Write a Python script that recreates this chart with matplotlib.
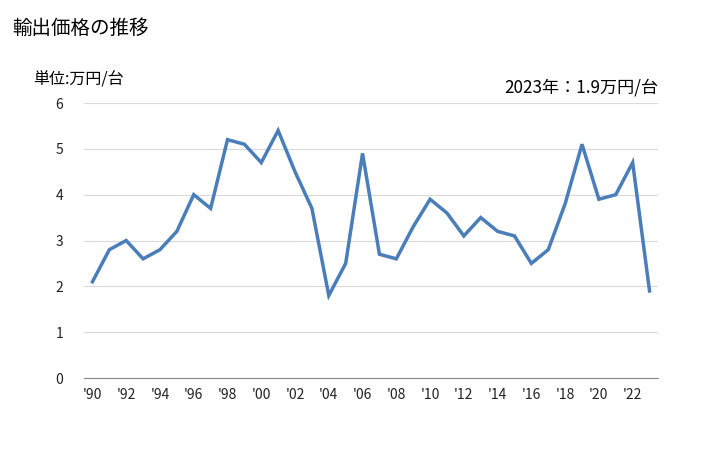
import matplotlib
matplotlib.use("Agg")
import matplotlib.pyplot as plt

plt.rcParams['font.family'] = ['Noto Sans CJK JP', 'DejaVu Sans']

years = list(range(1990, 2024))
prices = [2.1, 2.8, 3.0, 2.6, 2.8, 3.2, 4.0, 3.7, 5.2, 5.1,
          4.7, 5.4, 4.5, 3.7, 1.8, 2.5, 4.9, 2.7, 2.6, 3.3,
          3.9, 3.6, 3.1, 3.5, 3.2, 3.1, 2.5, 2.8, 3.8, 5.1,
          3.9, 4.0, 4.7, 1.9]
tick_years = list(range(1990, 2024, 2))
tick_labels = ["'%02d" % (y % 100) for y in tick_years]

fig = plt.figure(figsize=(7.28, 4.5), dpi=100)
ax = fig.add_axes([0.1154, 0.16, 0.7884, 0.6111])

ax.plot(years, prices, color='#4a7ebb', linewidth=2.5, solid_joinstyle='miter')

ax.set_xlim(1989.5, 2023.5)
ax.set_ylim(0, 6)
ax.set_yticks(range(0, 7))
ax.set_xticks(tick_years)
ax.set_xticklabels(tick_labels)
ax.yaxis.grid(True, color='#d9d9d9', linewidth=0.8)
ax.set_axisbelow(True)
for s in ['top', 'right', 'left']:
    ax.spines[s].set_visible(False)
ax.spines['bottom'].set_color('#898989')
ax.tick_params(axis='both', length=0, labelsize=10, colors='#222222')
ax.tick_params(axis='y', pad=15)
ax.tick_params(axis='x', pad=7)

fig.text(12 / 728, 1 - 28 / 450, '輸出価格の推移', fontsize=14, va='center', ha='left')
fig.text(33 / 728, 1 - 80 / 450, '単位:万円/台', fontsize=11.5, va='center', ha='left')
fig.text(658 / 728, 1 - 87 / 450, '2023年：1.9万円/台', fontsize=12.3, va='center', ha='right')

fig.savefig('out.png', dpi=100)
